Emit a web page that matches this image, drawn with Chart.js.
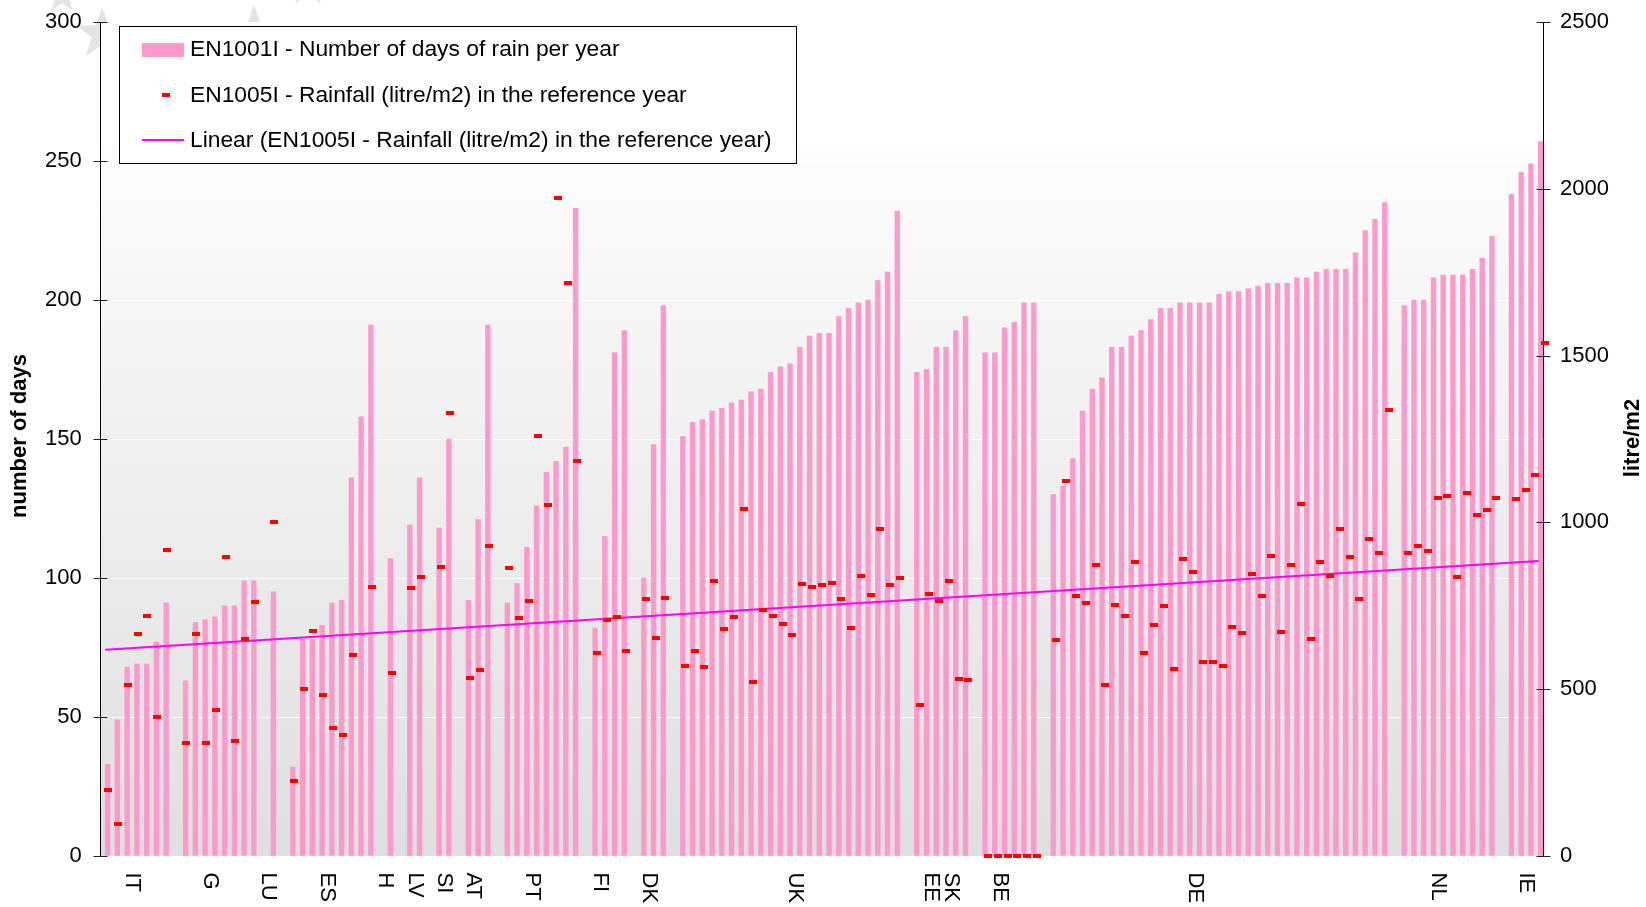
<!DOCTYPE html>
<html><head><meta charset="utf-8">
<script src="https://cdn.jsdelivr.net/npm/chart.js@4.4.1/dist/chart.umd.min.js"></script>
<style>html,body{margin:0;padding:0;background:#fff;overflow:hidden}canvas{display:block}</style>
</head><body>
<canvas id="c" width="1646" height="907"></canvas>
<script>
// ---------------- DATA ----------------
const categories = [
 '','','','IT','','','','','','',
 '','G','','','','','','LU','','',
 '','','','ES','','','','','','H',
 '','','LV','','','SI','','','AT','',
 '','','','','PT','','','','','',
 '','FI','','','','','DK','','','',
 '','','','','','','','','','',
 '','UK','','','','','','','','',
 '','','','','','EE','','SK','','',
 '','','BE','','','','','','','',
 '','','','','','','','','','',
 '','','DE','','','','','','','',
 '','','','','','','','','','',
 '','','','','','','','NL','','',
 '','','','','','','IE',''
];
const daysOfRain = [
 33, 49, 68, 69, 69, 77, 91, null, 63, 84,
 85, 86, 90, 90, 99, 99, null, 95, null, 32,
 78, 78, 83, 91, 92, 136, 158, 191, null, 107,
 null, 119, 136, null, 118, 150, null, 92, 121, 191,
 null, 91, 98, 111, 126, 138, 142, 147, 233, null,
 82, 115, 181, 189, null, 100, 148, 198, null, 151,
 156, 157, 160, 161, 163, 164, 167, 168, 174, 176,
 177, 183, 187, 188, 188, 194, 197, 199, 200, 207,
 210, 232, null, 174, 175, 183, 183, 189, 194, null,
 181, 181, 190, 192, 199, 199, null, 130, 133, 143,
 160, 168, 172, 183, 183, 187, 189, 193, 197, 197,
 199, 199, 199, 199, 202, 203, 203, 204, 205, 206,
 206, 206, 208, 208, 210, 211, 211, 211, 217, 225,
 229, 235, null, 198, 200, 200, 208, 209, 209, 209,
 211, 215, 223, null, 238, 246, 249, 257
];
const rainfall = [
 198, 96, 512, 665, 720, 418, 917, null, 340, 665,
 340, 437, 896, 344, 649, 762, null, 1000, null, 226,
 500, 674, 484, 385, 363, 604, null, 807, null, 549,
 null, 804, 835, null, 866, 1328, null, 535, 559, 929,
 null, 863, 712, 764, 1259, 1052, 1971, 1719, 1184, null,
 609, 707, 715, 616, null, 771, 653, 774, null, 569,
 616, 568, 823, 681, 715, 1040, 521, 736, 720, 694,
 663, 816, 807, 812, 819, 769, 684, 839, 783, 979,
 811, 832, null, 453, 786, 764, 823, 531, 528, null,
 0, 0, 0, 0, 0, 0, null, 648, 1125, 779,
 759, 873, 512, 752, 720, 880, 609, 691, 750, 561,
 891, 852, 583, 583, 569, 686, 667, 844, 779, 899,
 670, 873, 1054, 649, 880, 839, 981, 896, 769, 950,
 908, 1337, null, 908, 929, 913, 1073, 1078, 835, 1087,
 1021, 1038, 1073, null, 1069, 1096, 1142, 1538
];
const trendEnds = [618, 884];           // linear trend value at first and last category
const daysTicks = [0, 50, 100, 150, 200, 250, 300];
const litreTicks = [0, 500, 1000, 1500, 2000, 2500];
const seriesNames = [
 'EN1001I - Number of days of rain per year',
 'EN1005I - Rainfall (litre/m2) in the reference year',
 'Linear (EN1005I - Rainfall (litre/m2) in the reference year)'
];
const leftTitle = 'number of days';
const rightTitle = 'litre/m2';

// ---------------- STYLE ----------------
const FONT = "'Liberation Sans', Arial, Helvetica, sans-serif";
const PINK = '#ff99cc', RED = '#ff0000', MAGENTA = '#ff00ff';

const dash = document.createElement('canvas');
dash.width = 8; dash.height = 4;
{ const d = dash.getContext('2d'); d.fillStyle = RED; d.fillRect(0, 0, 8, 4); }

const trendData = categories.map((_, i) => i === 0 ? trendEnds[0] : (i === categories.length - 1 ? trendEnds[1] : null));
const rainPoints = rainfall.map((v, i) => v === null ? null : {x: i, y: v}).filter(p => p);

function star(ctx, cx, cy, r) {
  ctx.beginPath();
  for (let k = 0; k < 10; k++) {
    const rr = k % 2 === 0 ? r : r * 0.4;
    const a = -Math.PI / 2 + k * Math.PI / 5;
    const px = cx + rr * Math.cos(a), py = cy + rr * Math.sin(a);
    if (k === 0) ctx.moveTo(px, py); else ctx.lineTo(px, py);
  }
  ctx.closePath(); ctx.fill();
}

const decor = {
  id: 'decor',
  beforeDraw(chart) {
    const {ctx, chartArea: a, width, height} = chart;
    ctx.save();
    ctx.fillStyle = '#fff'; ctx.fillRect(0, 0, width, height);
    ctx.fillStyle = '#e4e4e4';
    star(ctx, 62, -4, 18); star(ctx, 102, 34, 27); star(ctx, 254, 34, 29); star(ctx, 308, -14, 22);
    ctx.fillStyle = '#fff'; ctx.fillRect(a.left, a.top, a.right - a.left, a.bottom - a.top);
    const gTop = 144;
    const g = ctx.createLinearGradient(0, gTop, 0, a.bottom);
    g.addColorStop(0, '#fdfdfd'); g.addColorStop(1, '#dfdfdf');
    ctx.fillStyle = g; ctx.fillRect(a.left, gTop, a.right - a.left, a.bottom - gTop);
    ctx.restore();
  },
  afterDraw(chart) {
    const {ctx, chartArea: a} = chart;
    const xs = chart.scales.x, yl = chart.scales.y, yr = chart.scales.y2;
    ctx.save();
    // crossing tick marks
    ctx.strokeStyle = '#222'; ctx.lineWidth = 1;
    const lx = Math.round(a.left) + 0.5, rx = Math.round(a.right) + 0.5;
    ctx.beginPath();
    daysTicks.forEach(v => { const y = Math.round(yl.getPixelForValue(v)) + 0.5; ctx.moveTo(lx - 7, y); ctx.lineTo(lx + 7, y); });
    litreTicks.forEach(v => { const y = Math.round(yr.getPixelForValue(v)) + 0.5; ctx.moveTo(rx - 7, y); ctx.lineTo(rx + 7, y); });
    ctx.stroke();
    // category labels (rotated clockwise)
    ctx.fillStyle = '#000'; ctx.font = '22px ' + FONT;
    ctx.textAlign = 'left'; ctx.textBaseline = 'middle';
    categories.forEach((c, i) => {
      if (!c) return;
      const x = xs.getPixelForValue(i) - 2.5;
      ctx.save(); ctx.translate(x, 872.5); ctx.rotate(Math.PI / 2); ctx.fillText(c, 0, 0); ctx.restore();
    });
    // axis titles
    ctx.font = 'bold 22px ' + FONT; ctx.textAlign = 'center';
    ctx.save(); ctx.translate(19.5, 436); ctx.rotate(-Math.PI / 2); ctx.fillText(leftTitle, 0, 0); ctx.restore();
    ctx.save(); ctx.translate(1632.5, 438); ctx.rotate(-Math.PI / 2); ctx.fillText(rightTitle, 0, 0); ctx.restore();
    // legend
    ctx.fillStyle = '#fff'; ctx.fillRect(119, 26, 677, 137);
    ctx.strokeStyle = '#000'; ctx.strokeRect(119.5, 26.5, 677, 137);
    ctx.fillStyle = PINK; ctx.fillRect(142, 43, 42, 14);
    ctx.fillStyle = RED; ctx.fillRect(162, 93, 8, 4);
    ctx.strokeStyle = MAGENTA; ctx.lineWidth = 2;
    ctx.beginPath(); ctx.moveTo(142, 140); ctx.lineTo(184, 140); ctx.stroke();
    ctx.fillStyle = '#000'; ctx.font = '22.8px ' + FONT; ctx.textAlign = 'left'; ctx.textBaseline = 'middle';
    const rows = [49.5, 95.8, 140.5];
    seriesNames.forEach((s, i) => ctx.fillText(s, 190, rows[i]));
    ctx.restore();
  }
};

new Chart(document.getElementById('c'), {
  type: 'bar',
  data: {
    labels: categories,
    datasets: [
      { type: 'line', label: seriesNames[1], data: rainPoints, xAxisID: 'x2', yAxisID: 'y2',
        showLine: false, pointStyle: dash, pointRadius: 4, pointHoverRadius: 4, clip: false, order: 0 },
      { type: 'line', label: seriesNames[2], data: trendData, xAxisID: 'x', yAxisID: 'y2',
        spanGaps: true, borderColor: MAGENTA, borderWidth: 2, pointRadius: 0, fill: false, order: 1 },
      { type: 'bar', label: seriesNames[0], data: daysOfRain, xAxisID: 'x', yAxisID: 'y',
        backgroundColor: PINK, borderWidth: 0, barThickness: 4.7, order: 2 }
    ]
  },
  options: {
    responsive: false, animation: false, devicePixelRatio: 1,
    layout: { padding: { top: 22, bottom: 51, left: 0, right: 0 } },
    plugins: { legend: { display: false }, tooltip: { enabled: false }, title: { display: false } },
    scales: {
      x: { type: 'category', display: false, offset: true, grid: { display: false } },
      x2: { type: 'linear', display: false, offset: false, min: -0.8, max: categories.length - 1.2 },
      y: {
        position: 'left', min: daysTicks[0], max: daysTicks[daysTicks.length - 1],
        afterFit(s) { s.width = 100.4; },
        ticks: { stepSize: 50, padding: 6.7, color: '#000', font: { family: FONT, size: 22 }, callback: v => String(v) },
        grid: { drawTicks: true, tickLength: 12, tickColor: 'rgba(0,0,0,0)',
                color: c => (c.tick && (c.tick.value === 0 || c.tick.value === 300)) ? 'rgba(0,0,0,0)' : 'rgba(255,255,255,0.9)', lineWidth: 1 },
        border: { display: true, color: '#000', width: 1 }
      },
      y2: {
        position: 'right', min: litreTicks[0], max: litreTicks[litreTicks.length - 1],
        afterFit(s) { s.width = 102.8; },
        ticks: { stepSize: 500, padding: 6.8, color: '#000', font: { family: FONT, size: 22 }, callback: v => String(v) },
        grid: { drawOnChartArea: false, drawTicks: true, tickLength: 10, tickColor: 'rgba(0,0,0,0)' },
        border: { display: true, color: '#000', width: 1 }
      }
    }
  },
  plugins: [decor]
});
</script>
</body></html>
